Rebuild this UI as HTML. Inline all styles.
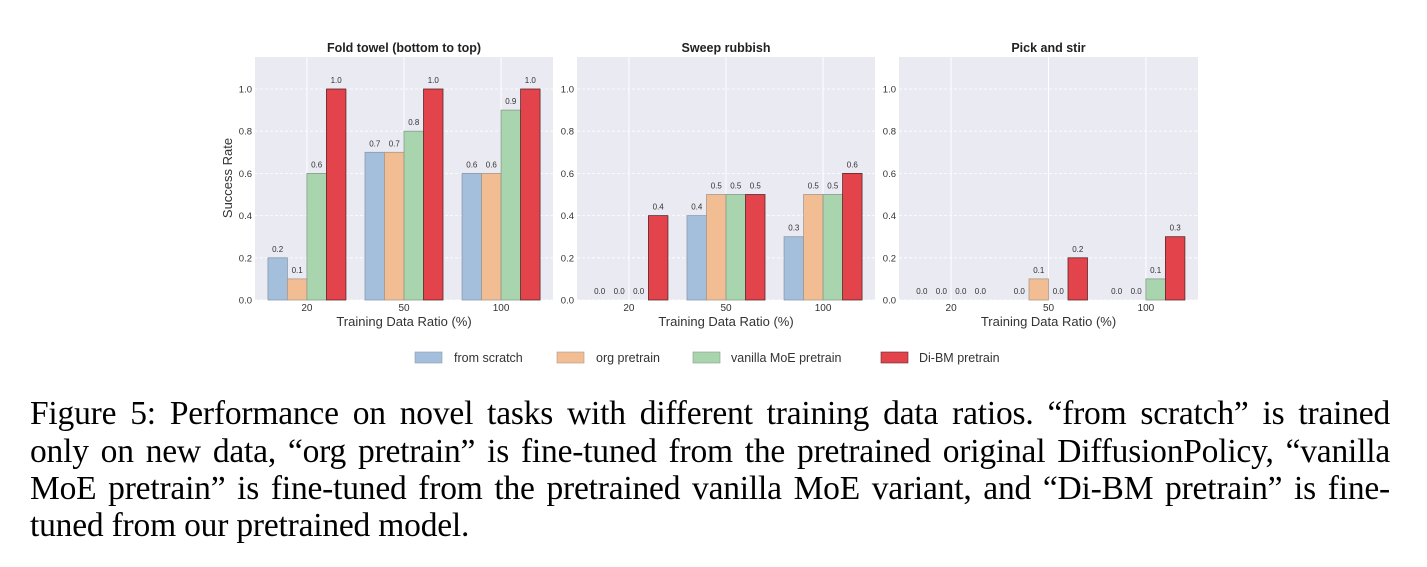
<!DOCTYPE html>
<html><head><meta charset="utf-8"><style>
body{margin:0;background:#fff;width:1427px;height:567px;overflow:hidden;position:relative}
svg{position:absolute;left:0;top:0}
.cap{position:absolute;left:30px;width:1360px;font-family:"Liberation Serif",serif;font-size:33.5px;color:#000;white-space:nowrap;letter-spacing:-0.2px}
.j{text-align:justify;text-align-last:justify}
</style></head><body>
<svg id="s" width="1427" height="400" xmlns="http://www.w3.org/2000/svg" font-family="Liberation Sans, sans-serif"></svg>
<div class="cap j" style="top:395px">Figure 5: Performance on novel tasks with different training data ratios. “from scratch” is trained</div>
<div class="cap j" style="top:433px">only on new data, “org pretrain” is fine-tuned from the pretrained original DiffusionPolicy, “vanilla</div>
<div class="cap j" style="top:470px">MoE pretrain” is fine-tuned from the pretrained vanilla MoE variant, and “Di-BM pretrain” is fine-</div>
<div class="cap" style="top:507px">tuned from our pretrained model.</div>
<script>
const s=document.getElementById('s');let h='';
const cols=['#a3bfdb','#f3bd94','#a9d5ae','#e3434a'];
const edges=['#8a9aab','#a89a8c','#8a9a8c','#5a2a2c'];
const panels=[
{x0:255,x1:553,title:'Fold towel (bottom to top)',v:[[0.2,0.1,0.6,1.0],[0.7,0.7,0.8,1.0],[0.6,0.6,0.9,1.0]]},
{x0:577,x1:875,title:'Sweep rubbish',v:[[0,0,0,0.4],[0.4,0.5,0.5,0.5],[0.3,0.5,0.5,0.6]]},
{x0:899,x1:1198,title:'Pick and stir',v:[[0,0,0,0],[0,0.1,0,0.2],[0,0,0.1,0.3]]}];
const Y=v=>300-211*v;
panels.forEach((p,pi)=>{
 h+=`<rect x="${p.x0}" y="57" width="${p.x1-p.x0}" height="243" fill="#eaeaf2"/>`;
 for(let t=0;t<=5;t++){const y=Y(t*0.2);h+=`<line x1="${p.x0}" x2="${p.x1}" y1="${y}" y2="${y}" stroke="#fff" stroke-width="0.8" stroke-dasharray="3,2"/>`;
  h+=`<text x="${p.x0-3}" y="${y+3.5}" font-size="9.5" fill="#333" text-anchor="end">${(t*0.2).toFixed(1)}</text>`;}
 const w=p.x1-p.x0, sp=w/3.07, c0=p.x0+(w-2*sp)/2;
 ['20','50','100'].forEach((lab,i)=>{const cx=c0+i*sp;
  h+=`<line x1="${cx}" x2="${cx}" y1="57" y2="300" stroke="#fff" stroke-width="1"/>`;
  h+=`<text x="${cx}" y="311" font-size="10" fill="#333" text-anchor="middle">${lab}</text>`;
  p.v[i].forEach((v,k)=>{const bw=19.5,x=cx-39+k*bw;
   if(v>0)h+=`<rect x="${x}" y="${Y(v)}" width="${bw}" height="${300-Y(v)}" fill="${cols[k]}" stroke="${edges[k]}" stroke-width="0.8"/>`;
   h+=`<text x="${x+bw/2}" y="${Y(v)-6}" font-size="8" fill="#333" text-anchor="middle">${v.toFixed(1)}</text>`;});
 });
 h+=`<text x="${(p.x0+p.x1)/2}" y="52" font-size="12.5" font-weight="bold" fill="#222" text-anchor="middle">${p.title}</text>`;
 h+=`<text x="${(p.x0+p.x1)/2}" y="326" font-size="13" fill="#333" text-anchor="middle">Training Data Ratio (%)</text>`;
});
h+=`<text transform="translate(232,178) rotate(-90)" font-size="13" fill="#333" text-anchor="middle">Success Rate</text>`;
const L=[[415,454,'from scratch'],[557,596,'org pretrain'],[693,731,'vanilla MoE pretrain'],[881,919,'Di-BM pretrain']];
L.forEach((l,k)=>{h+=`<rect x="${l[0]}" y="352" width="27" height="11" fill="${cols[k]}" stroke="${edges[k]}" stroke-width="0.6"/>`;
 h+=`<text x="${l[1]}" y="362" font-size="12.5" fill="#333">${l[2]}</text>`;});
s.innerHTML=h;
</script>
</body></html>
